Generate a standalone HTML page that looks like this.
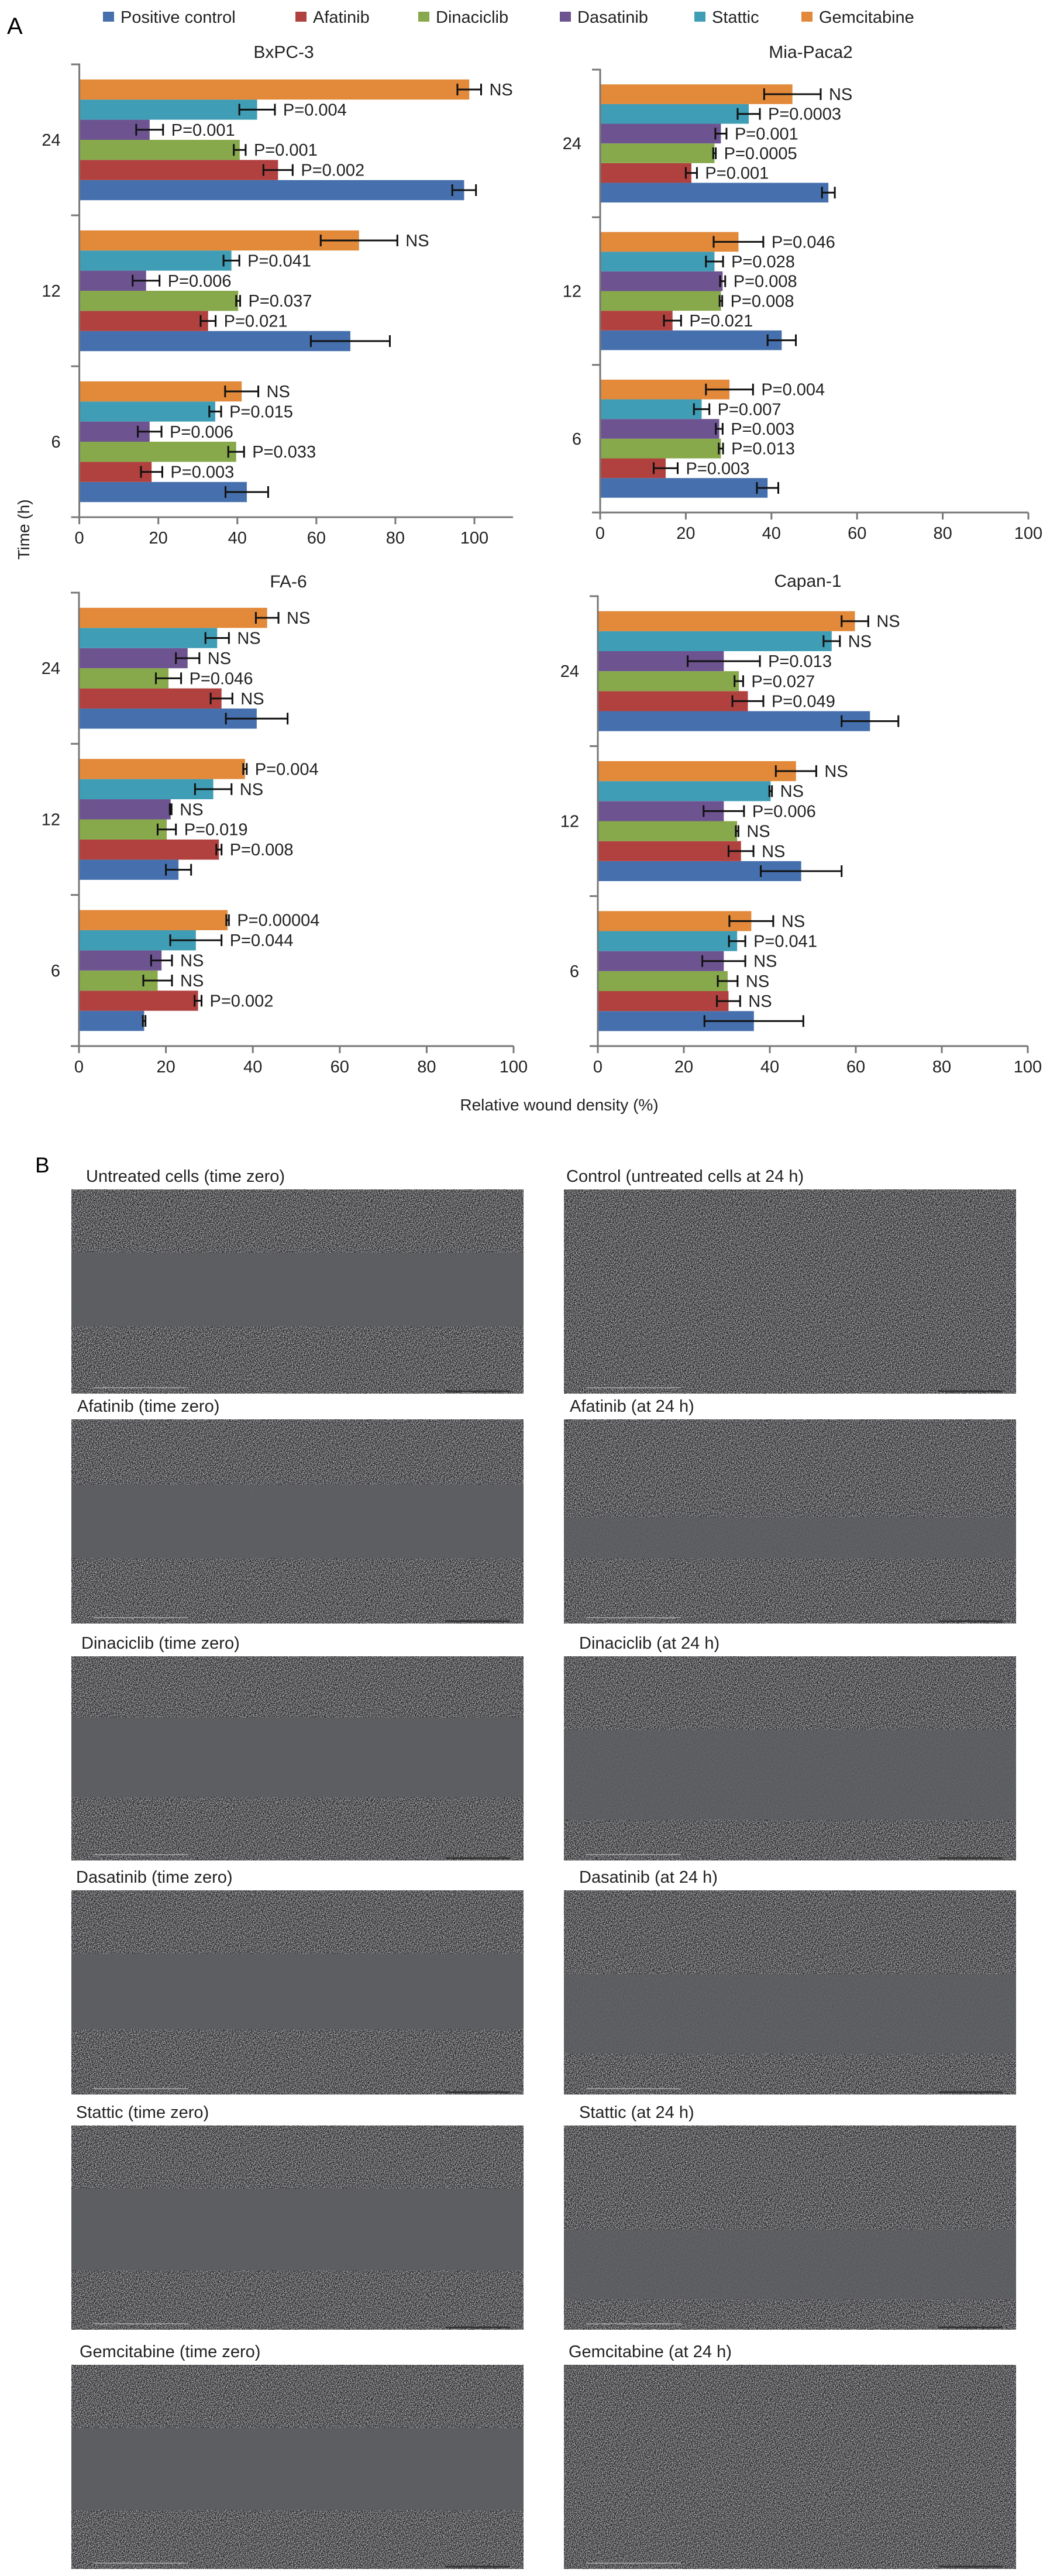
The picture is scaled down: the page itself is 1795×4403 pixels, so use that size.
<!DOCTYPE html>
<html><head><meta charset="utf-8"><style>
html,body{margin:0;padding:0;background:#fff;}
svg{display:block;font-family:"Liberation Sans",Arial,sans-serif;}
</style></head><body>
<svg id="root" width="1795" height="4403" viewBox="0 0 1795 4403" xmlns="http://www.w3.org/2000/svg">
<defs>
<filter id="noise" x="0" y="0" width="100%" height="100%" color-interpolation-filters="sRGB">
<feTurbulence type="fractalNoise" baseFrequency="0.75" numOctaves="2" seed="3"/>
<feColorMatrix type="matrix" values="2.4 0 0 0 -0.83  2.4 0 0 0 -0.83  2.4 0 0 0 -0.82  0 0 0 0 1"/>
</filter>
</defs>
<text x="12" y="58" font-size="40">A</text>
<g id="legend"></g>
<g id="charts"></g>
<text transform="translate(50,905) rotate(-90)" text-anchor="middle" font-size="28" fill="#222">Time (h)</text>
<text x="956" y="1898" text-anchor="middle" font-size="28" fill="#222">Relative wound density (%)</text>
<text x="60" y="2004" font-size="37">B</text>
<g id="photos"></g>
</svg>
<script>
const NS='http://www.w3.org/2000/svg';
const series=['Positive control','Afatinib','Dinaciclib','Dasatinib','Stattic','Gemcitabine'];
const colors=['#4570ad','#b0413f','#87a94b','#6d5491','#3f9db5','#e2893a'];
const times=['6','12','24'];
const ticks=[0,20,40,60,80,100];
// values[timeIndex][seriesIndex]  (time order 6,12,24)
const bxVals=[[42.4,18.3,39.7,17.8,34.4,41.1],[68.6,32.6,40.2,16.9,38.5,70.8],[97.4,50.3,40.6,17.8,45.0,98.7]];
const bxErr=[[5.4,2.7,2.0,3.0,1.5,4.2],[10,1.9,0.5,3.4,2.0,9.7],[3.0,3.7,1.5,3.4,4.5,3.0]];
const bxLab=[['','P=0.003','P=0.033','P=0.006','P=0.015','NS'],['','P=0.021','P=0.037','P=0.006','P=0.041','NS'],['','P=0.002','P=0.001','P=0.001','P=0.004','NS']];
const miaVals=[[39.1,15.3,28.2,27.8,23.7,30.2],[42.4,16.9,28.2,28.6,26.7,32.3],[53.3,21.3,26.7,28.2,34.7,44.9]];
const miaErr=[[2.5,2.8,0.5,0.8,1.8,5.5],[3.3,2.0,0.3,0.6,2.0,5.8],[1.5,1.3,0.3,1.3,2.6,6.6]];
const miaLab=[['','P=0.003','P=0.013','P=0.003','P=0.007','P=0.004'],['','P=0.021','P=0.008','P=0.008','P=0.028','P=0.046'],['','P=0.001','P=0.0005','P=0.001','P=0.0003','NS']];
const faVals=[[15.0,27.4,18.1,19.0,26.9,34.2],[22.9,32.2,20.2,21.1,30.9,38.2],[40.9,32.8,20.6,25.0,31.8,43.3]];
const faErr=[[0.3,0.8,3.3,2.4,5.9,0.3],[2.9,0.6,2.1,0.2,4.2,0.4],[7.1,2.5,2.9,2.7,2.7,2.6]];
const faLab=[['','P=0.002','NS','NS','P=0.044','P=0.00004'],['','P=0.008','P=0.019','NS','NS','P=0.004'],['','NS','P=0.046','NS','NS','NS']];
const capVals=[[36.3,30.4,30.2,29.3,32.4,35.7],[47.3,33.3,32.4,29.3,40.2,46.1],[63.3,34.9,32.8,29.3,54.4,59.8]];
const capErr=[[11.5,2.7,2.3,5.0,1.9,5.1],[9.4,2.9,0.3,4.7,0.3,4.7],[6.6,3.6,1.0,8.4,1.9,3.1]];
const capLab=[['','NS','NS','NS','P=0.041','NS'],['','NS','NS','P=0.006','NS','NS'],['','P=0.049','P=0.027','P=0.013','NS','NS']];

function el(tag,attrs,parent){const e=document.createElementNS(NS,tag);for(const k in attrs)e.setAttribute(k,attrs[k]);parent.appendChild(e);return e;}

const legend=document.getElementById('legend');
const legX=[176,505,715,957,1187,1370];
series.forEach((s,i)=>{
  const g=el('g',{},legend);
  
  
  el('rect',{x:legX[i],y:20,width:19,height:17,fill:colors[i]},g);
  const t=el('text',{x:legX[i]+30,y:39,'font-size':29,fill:'#222'},g);t.textContent=s;
});

function panel(cfg){
  const root=document.getElementById('charts');
  const g=el('g',{},root);
  
  
  const sx=v=>cfg.x0+(cfg.x100-cfg.x0)*v/100;
  const H=(cfg.yBot-cfg.yTop)/3;
  const t=el('text',{x:cfg.tx,y:cfg.ty+10,'text-anchor':'middle','font-size':30,fill:'#222'},g);
  
  
  t.textContent=cfg.title;
  times.forEach((tm,ti)=>{
    const gTop=cfg.yBot-(ti+1)*H;
    const bh=H*0.8/6;
    const lbl=el('text',{x:cfg.x0-32,y:gTop+H/2+10,'text-anchor':'end','font-size':29,fill:'#222'},g);
    
    
    lbl.textContent=tm;
    for(let si=0;si<6;si++){
      const y=gTop+H*0.1+(5-si)*bh;
      const v=cfg.vals[ti][si], e=cfg.err[ti][si];
      const r=el('rect',{x:sx(0),y:y,width:sx(v)-sx(0),height:bh,fill:colors[si]},g);
      
      
      const cy=y+bh/2;
      const eb=el('path',{d:`M${sx(v-e)},${cy}H${sx(v+e)}M${sx(v-e)},${cy-10}V${cy+10}M${sx(v+e)},${cy-10}V${cy+10}`,stroke:'#111','stroke-width':3,fill:'none'},g);
      
      
      const lt=cfg.lab[ti][si];
      if(lt){
        const tx=el('text',{x:sx(v+e)+14,y:cy+10,'font-size':29,fill:'#222'},g);
        
        
        tx.textContent=lt;
      }
    }
  });
  el('path',{d:`M${cfg.x0-14},${cfg.yTop}H${cfg.x0}V${cfg.yBot}H${cfg.xEnd}`,stroke:'#777','stroke-width':3,fill:'none'},g);
  for(let k=1;k<3;k++){el('path',{d:`M${cfg.x0-14},${cfg.yTop+k*H}H${cfg.x0}`,stroke:'#777','stroke-width':3},g);}
  el('path',{d:`M${cfg.x0-14},${cfg.yBot}H${cfg.x0}`,stroke:'#777','stroke-width':3},g);
  ticks.forEach(tk=>{
    el('path',{d:`M${sx(tk)},${cfg.yBot}V${cfg.yBot+12}`,stroke:'#777','stroke-width':3},g);
    const tl=el('text',{x:sx(tk),y:cfg.yBot+45,'text-anchor':'middle','font-size':29,fill:'#222'},g);
    
    
    tl.textContent=tk;
  });
}
panel({name:'chart-bxpc3',title:'BxPC-3',tx:485,ty:89,x0:135.6,x100:811,xEnd:877,yTop:110,yBot:884,vals:bxVals,err:bxErr,lab:bxLab});
panel({name:'chart-miapaca2',title:'Mia-Paca2',tx:1386,ty:89,x0:1026,x100:1758,xEnd:1758,yTop:119,yBot:876,vals:miaVals,err:miaErr,lab:miaLab});
panel({name:'chart-fa6',title:'FA-6',tx:493,ty:994,x0:135,x100:878,xEnd:878,yTop:1013,yBot:1788,vals:faVals,err:faErr,lab:faLab});
panel({name:'chart-capan1',title:'Capan-1',tx:1381,ty:993,x0:1022,x100:1757,xEnd:1757,yTop:1019,yBot:1788,vals:capVals,err:capErr,lab:capLab});

const photoLabels=[['Untreated cells (time zero)','Control (untreated cells at 24 h)'],['Afatinib (time zero)','Afatinib (at 24 h)'],['Dinaciclib (time zero)','Dinaciclib (at 24 h)'],['Dasatinib (time zero)','Dasatinib (at 24 h)'],['Stattic (time zero)','Stattic (at 24 h)'],['Gemcitabine (time zero)','Gemcitabine (at 24 h)']];
const rowTops=[2033,2426,2831,3231,3633,4042];
const labX=[[147,968],[132,974],[139,990],[130,990],[130,990],[136,972]];
const bands=[[[0.31,0.67],null],[[0.32,0.68],[0.48,0.68]],[[0.30,0.69],[0.36,0.80]],[[0.31,0.68],[0.41,0.80]],[[0.31,0.71],[0.51,0.85]],[[0.31,0.71],null]];
const photos=document.getElementById('photos');
const colX=[122,964], W=773, PH=349;
photoLabels.forEach((row,ri)=>{
  row.forEach((lab,ci)=>{
    const g=el('g',{},photos);
    
    
    const x=colX[ci], y=rowTops[ri];
    const t=el('text',{x:labX[ri][ci],y:y-13,'font-size':29,fill:'#222'},g);
    
    
    t.textContent=lab;
    el('rect',{x:x,y:y,width:W,height:PH,fill:'#5e5f62'},g);
    el('rect',{x:x,y:y,width:W,height:PH,filter:'url(#noise)',opacity:0.8},g);
    const b=bands[ri][ci];
    if(b){el('rect',{x:x,y:y+b[0]*PH,width:W,height:(b[1]-b[0])*PH,fill:'#5d5e61',opacity:ci?0.85:0.97},g);}
    el('path',{d:`M${x+38},${y+PH-10}H${x+200}`,stroke:'#999','stroke-width':2},g);
    el('path',{d:`M${x+640},${y+PH-4}H${x+750}`,stroke:'#333','stroke-width':3},g);
  });
});
</script>
</body></html>
